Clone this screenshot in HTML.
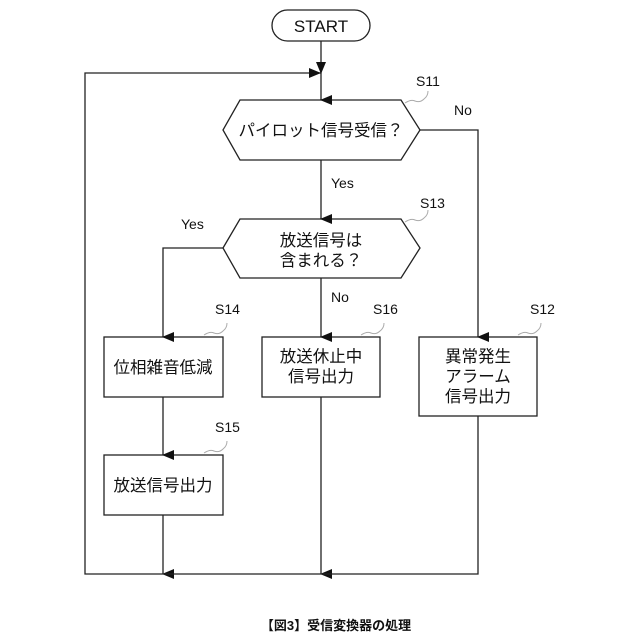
<!DOCTYPE html>
<html><head><meta charset="utf-8"><style>
html,body{margin:0;padding:0;background:#fff;}
svg{display:block;}
text{font-family:"Liberation Sans","Noto Sans CJK JP",sans-serif;fill:#111;}
</style></head><body>
<svg width="640" height="640" viewBox="0 0 640 640" xmlns="http://www.w3.org/2000/svg">
<defs>
<marker id="a" markerWidth="10" markerHeight="12" refX="5" refY="11" orient="auto" markerUnits="userSpaceOnUse" viewBox="0 0 10 12">
<path d="M0,0 L10,0 L5,12 Z" fill="#111"/>
</marker>
</defs>
<g stroke="#222" stroke-width="1.3" fill="none">
<rect x="272" y="10" width="98" height="31" rx="15.5" fill="#fff"/>
<polygon points="223,130 240,100 401,100 420,130 401,160 240,160" fill="#fff"/>
<polygon points="223,248 240,219 401,219 420,248 401,278 240,278" fill="#fff"/>
<rect x="104" y="337" width="119" height="60"/>
<rect x="262" y="337" width="118" height="60"/>
<rect x="419" y="337" width="118" height="79"/>
<rect x="104" y="455" width="119" height="60"/>
<!-- connectors -->
<line x1="321" y1="41" x2="321" y2="100" marker-end="url(#a)"/>
<line x1="321" y1="160" x2="321" y2="219" marker-end="url(#a)"/>
<line x1="321" y1="278" x2="321" y2="337" marker-end="url(#a)"/>
<polyline points="223,248 163,248 163,337" marker-end="url(#a)"/>
<polyline points="420,130 478,130 478,337" marker-end="url(#a)"/>
<line x1="163" y1="397" x2="163" y2="455" marker-end="url(#a)"/>
<line x1="163" y1="515" x2="163" y2="574" marker-end="url(#a)"/>
<line x1="321" y1="397" x2="321" y2="574" marker-end="url(#a)"/>
<polyline points="478,416 478,574 85,574 85,73 240,73"/>
<line x1="240" y1="73" x2="321" y2="73" marker-end="url(#a)" transform=""/>
</g>
<path d="M309,68 L321,73 L309,78 Z" fill="#111"/>
<!-- squiggles -->
<g stroke="#aaa" stroke-width="1" fill="none">
<path d="M405,103 q6,-4 10,-2 q5,2 9,-2 q4,-3 4,-8"/>
<path d="M405,222 q6,-4 10,-2 q5,2 9,-2 q4,-3 4,-8"/>
<path d="M204,335 q6,-4 10,-2 q5,2 9,-2 q4,-3 4,-8"/>
<path d="M361,335 q6,-4 10,-2 q5,2 9,-2 q4,-3 4,-8"/>
<path d="M518,335 q6,-4 10,-2 q5,2 9,-2 q4,-3 4,-8"/>
<path d="M204,453 q6,-4 10,-2 q5,2 9,-2 q4,-3 4,-8"/>
</g>
<g font-size="16.5" text-anchor="middle">
<text x="321" y="32" font-size="17">START</text>
<text x="321" y="136">パイロット信号受信？</text>
<text x="321" y="246">放送信号は</text>
<text x="321" y="266">含まれる？</text>
<text x="163" y="373">位相雑音低減</text>
<text x="321" y="362">放送休止中</text>
<text x="321" y="382">信号出力</text>
<text x="478" y="362">異常発生</text>
<text x="478" y="382">アラーム</text>
<text x="478" y="402">信号出力</text>
<text x="163" y="491">放送信号出力</text>
</g>
<g font-size="14">
<text x="416" y="86">S11</text>
<text x="454" y="115">No</text>
<text x="331" y="188">Yes</text>
<text x="420" y="208">S13</text>
<text x="181" y="229">Yes</text>
<text x="331" y="302">No</text>
<text x="215" y="314">S14</text>
<text x="373" y="314">S16</text>
<text x="530" y="314">S12</text>
<text x="215" y="432">S15</text>
</g>
<text x="336" y="630" font-size="13" text-anchor="middle" font-weight="bold">【図3】受信変換器の処理</text>
</svg>
</body></html>
